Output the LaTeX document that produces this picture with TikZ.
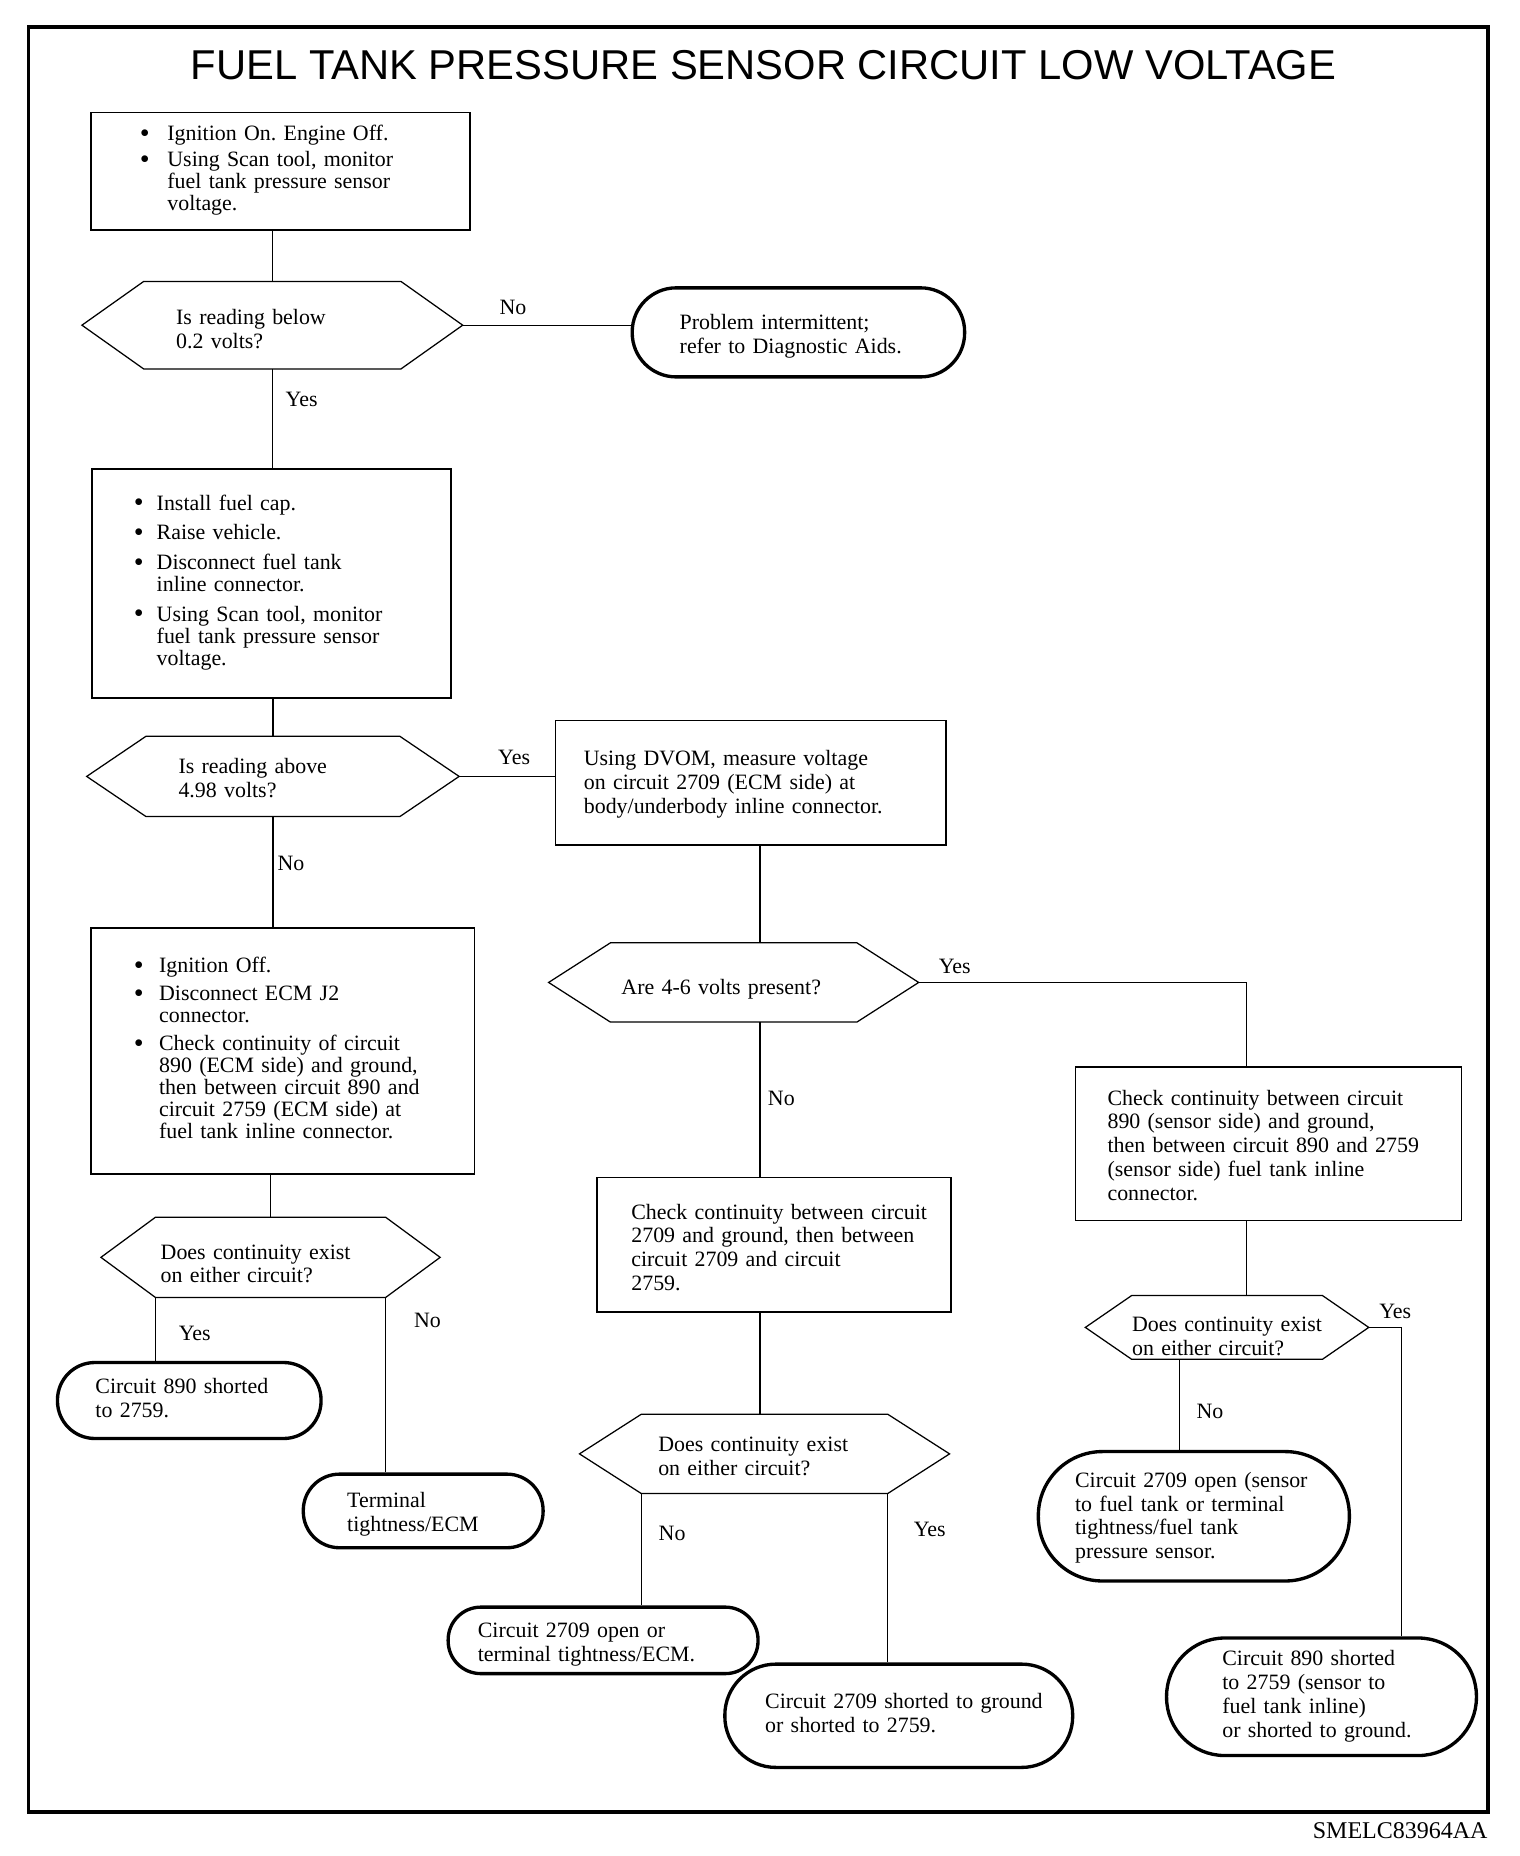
\documentclass[tikz,border=0pt]{standalone}
\usepackage{fontspec}
\setmainfont{Liberation Serif}
\newfontfamily\titlefont{Liberation Sans}
\usetikzlibrary{positioning,calc}
\setlength{\parindent}{0pt}
\frenchspacing

% lines of a node, lowered by #1
\newcommand{\boxtext}[2][0pt]{\raisebox{-#1}[\height][\depth]{\begin{tabular}{@{}l@{}}#2\end{tabular}}}
% bullet list, #1 = gap after the bullet
\newcommand{\bitems}[2]{\begin{tabular}{@{}l@{\hspace{#1}}l@{}}#2\end{tabular}}
\newcommand{\bdot}{\raisebox{-0.7pt}{\fontsize{13.5}{10}\selectfont\textbullet}}
% hexagon round a question node, #2 = slant
\newcommand{\hexa}[2]{%
  \coordinate (#1-l) at ($(#1.west)+(-#2,0)$);
  \coordinate (#1-r) at ($(#1.east)+(#2,0)$);
  \draw[link] (#1.north west) -- (#1.north east) -- (#1-r) -- (#1.south east)
    -- (#1.south west) -- (#1-l) -- cycle;}

\begin{document}
\begin{tikzpicture}[x=0.02cm, y=-0.02cm,
  every node/.style={font=\fontsize{10.5}{11.4}\selectfont},
  bulletfont/.style={font=\fontsize{10.5}{10.45}\selectfont},
  stepbox/.style={draw, line width=0.8pt, anchor=north west, align=left, inner ysep=0pt},
  endbox/.style={stepbox, line width=1.6pt},
  askbox/.style={anchor=north west, align=left, inner ysep=0pt},
  lbl/.style={inner sep=0pt},
  link/.style={line width=0.6pt}]
\useasboundingbox (0,0) rectangle (1280,1563);
\draw[line width=1.8pt] (24,23) rectangle (1253,1526);

\node[font=\titlefont\fontsize{20}{24}\selectfont] (title) at (643,55)
  {FUEL TANK PRESSURE SENSOR CIRCUIT LOW VOLTAGE};
\node[anchor=east, inner sep=0pt, font=\fontsize{11.5}{12}\selectfont] (code) at (1253,1542) {SMELC83964AA};

% left column
\node[stepbox, bulletfont, text width=4.74cm, inner xsep=0.82cm, minimum height=1.98cm] (boxa) at (76,94)
  {\bitems{0.30cm}{\bdot & Ignition On. Engine Off.\\[2.1pt]
   \bdot & Using Scan tool, monitor\\ & fuel tank pressure sensor\\ & voltage.}};
\node[askbox, text width=3.24cm, inner xsep=0.54cm, minimum height=1.46cm] (d1) at (121,237)
  {\boxtext[3.1pt]{Is reading below\\ 0.2 volts?}};
\hexa{d1}{52}
\node[endbox, rounded corners=0.74cm, text width=4.00cm, inner xsep=0.80cm, minimum height=1.50cm] (t1) at (531,241)
  {\boxtext[2pt]{Problem intermittent;\\ refer to Diagnostic Aids.}};
\node[stepbox, bulletfont, text width=4.64cm, inner xsep=0.70cm, minimum height=3.86cm] (boxb) at (77,394)
  {\bitems{0.22cm}{\bdot & Install fuel cap.\\[3.8pt]
   \bdot & Raise vehicle.\\[3.8pt]
   \bdot & Disconnect fuel tank\\ & inline connector.\\[3.8pt]
   \bdot & Using Scan tool, monitor\\ & fuel tank pressure sensor\\ & voltage.}};
\node[askbox, text width=3.18cm, inner xsep=0.54cm, minimum height=1.34cm] (d2) at (123,620)
  {\boxtext[2pt]{Is reading above\\ 4.98 volts?}};
\hexa{d2}{50}
\node[stepbox, text width=5.62cm, inner xsep=0.48cm, minimum height=2.10cm] (boxc) at (467,606)
  {\boxtext[0.9pt]{Using DVOM, measure voltage\\ on circuit 2709 (ECM side) at\\ body/underbody inline connector.}};
\node[stepbox, bulletfont, text width=5.02cm, inner xsep=0.72cm, minimum height=4.14cm] (boxe) at (76,781)
  {\bitems{0.26cm}{\bdot & Ignition Off.\\[3pt]
   \bdot & Disconnect ECM J2\\ & connector.\\[3pt]
   \bdot & Check continuity of circuit\\ & 890 (ECM side) and ground,\\
   & then between circuit 890 and\\ & circuit 2759 (ECM side) at\\ & fuel tank inline connector.}};
\node[askbox, text width=3.70cm, inner xsep=0.08cm, minimum height=1.34cm] (d3) at (131,1025)
  {\boxtext[4.3pt]{Does continuity exist\\ on either circuit?}};
\hexa{d3}{46}
\node[endbox, rounded corners=0.63cm, text width=3.16cm, inner xsep=0.64cm, minimum height=1.28cm] (t2) at (47,1146)
  {\boxtext{Circuit 890 shorted\\ to 2759.}};
\node[endbox, rounded corners=0.61cm, text width=2.56cm, inner xsep=0.74cm, minimum height=1.24cm] (t3) at (254,1240)
  {\boxtext[1.7pt]{Terminal\\ tightness/ECM}};

% middle column
\coordinate (colb) at (640,0);
\node[askbox, text width=3.78cm, inner xsep=0.18cm, minimum height=1.32cm] (d4) at (514,794)
  {\boxtext[3.4pt]{Are 4-6 volts present?}};
\hexa{d4}{52}
\node[stepbox, text width=4.80cm, inner xsep=0.58cm, minimum height=2.26cm] (boxg) at (502,991)
  {\boxtext[2.6pt]{Check continuity between circuit\\ 2709 and ground, then between\\ circuit 2709 and circuit\\ 2759.}};
\node[askbox, text width=3.58cm, inner xsep=0.28cm, minimum height=1.32cm] (d5) at (540,1191)
  {\boxtext[2.3pt]{Does continuity exist\\ on either circuit?}};
\hexa{d5}{52}
\node[endbox, rounded corners=0.55cm, text width=4.22cm, inner xsep=0.50cm, minimum height=1.12cm] (t4) at (376,1352)
  {\boxtext[2pt]{Circuit 2709 open or\\ terminal tightness/ECM.}};
\node[endbox, rounded corners=0.86cm, text width=4.50cm, inner xsep=0.68cm, minimum height=1.74cm] (t5) at (609,1400)
  {\boxtext{Circuit 2709 shorted to ground\\ or shorted to 2759.}};

% right column
\coordinate (colc) at (1050,0);
\coordinate (cold) at (993,0);
\coordinate (cole) at (1180,0);
\node[stepbox, text width=5.42cm, inner xsep=0.54cm, minimum height=2.58cm] (boxf) at (905,898)
  {\boxtext[2pt]{Check continuity between circuit\\ 890 (sensor side) and ground,\\ then between circuit 890 and 2759\\ (sensor side) fuel tank inline\\ connector.}};
\node[askbox, text width=3.20cm, inner xsep=0cm, minimum height=1.06cm] (d6) at (953,1091)
  {\boxtext[5.4pt]{Does continuity exist\\ on either circuit?}};
\hexa{d6}{39}
\node[endbox, rounded corners=1.08cm, text width=4.00cm, inner xsep=0.62cm, minimum height=2.18cm] (t6) at (873,1221)
  {\boxtext[0.9pt]{Circuit 2709 open (sensor\\ to fuel tank or terminal\\ tightness/fuel tank\\ pressure sensor.}};
\node[endbox, rounded corners=0.98cm, text width=3.34cm, inner xsep=0.94cm, minimum height=1.98cm] (t7) at (981,1378)
  {\boxtext{Circuit 890 shorted\\ to 2759 (sensor to\\ fuel tank inline)\\ or shorted to ground.}};

% connectors
\draw[link] (d1.north) -- (d1.north |- boxa.south);
\draw[link] (d1-r) -- (d1-r -| t1.west);
\draw[link] (d1.south) -- (d1.south |- boxb.north);
\draw[link] (d2.north) -- (d2.north |- boxb.south);
\draw[link] (d2-r) -- (d2-r -| boxc.west);
\draw[link] (d2.south) -- (d2.south |- boxe.north);
\draw[link] (d3.north) -- (d3.north |- boxe.south);
\draw[link] (d3.south west) -- (d3.south west |- t2.north);
\draw[link] (d3.south east) -- (d3.south east |- t3.north);
\draw[link] (boxc.south -| colb) -- (d4.north -| colb);
\draw[link] (d4.south -| colb) -- (boxg.north -| colb);
\draw[link] (boxg.south -| colb) -- (d5.north -| colb);
\draw[link] (d5.south west) -- (d5.south west |- t4.north);
\draw[link] (d5.south east) -- (d5.south east |- t5.north);
\draw[link] (d4-r) -| (boxf.north -| colc);
\draw[link] (boxf.south -| colc) -- (d6.north -| colc);
\draw[link] (d6.south -| cold) -- (t6.north -| cold);
\draw[link] (d6-r) -| (t7.north -| cole);

% answers
\node[lbl] (no1) at (432,259) {No};
\node[lbl] (yes1) at (254,336) {Yes};
\node[lbl] (yes2) at (433,638) {Yes};
\node[lbl] (no2) at (245,727) {No};
\node[lbl] (yes3) at (164,1123) {Yes};
\node[lbl] (no3) at (360,1112) {No};
\node[lbl] (yes4) at (804,814) {Yes};
\node[lbl] (no4) at (658,925) {No};
\node[lbl] (no5) at (566,1291) {No};
\node[lbl] (yes5) at (783,1288) {Yes};
\node[lbl] (yes6) at (1175,1104) {Yes};
\node[lbl] (no6) at (1019,1189) {No};
\end{tikzpicture}
\end{document}
